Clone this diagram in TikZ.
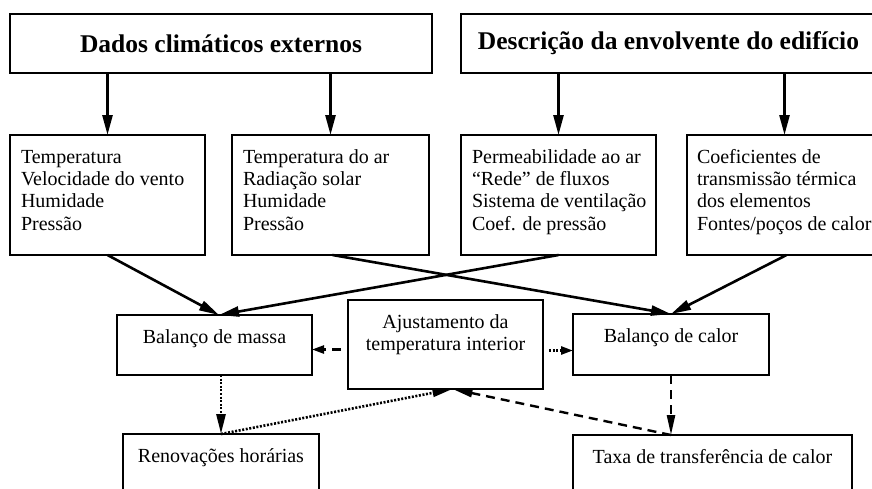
\documentclass[tikz,border=0pt]{standalone}
\usepackage{fontspec}
\setmainfont{Liberation Serif}
\usetikzlibrary{arrows.meta}
\newcommand{\boxL}[4]{\begin{minipage}[c][#2][t]{#1}\raggedright\leftskip=#3\relax\rule{0pt}{28pt}#4\end{minipage}}
\newcommand{\boxC}[3]{\begin{minipage}[c][#2][t]{#1}\centering\rule{0pt}{28pt}#3\end{minipage}}
\newcommand{\tline}[1]{\leavevmode\rlap{#1}}
\begin{document}
\begin{tikzpicture}[x=1pt,y=-1pt,
  font=\fontsize{20}{22.4}\selectfont,
  bx/.style={draw, line width=1.3pt, inner sep=0pt, outer sep=0pt},
  titlebox/.style={draw, line width=1.3pt, inner sep=0pt, outer sep=0pt, font=\fontsize{25.5}{30}\selectfont\bfseries},
  arr/.style={line width=2.6pt, -{Triangle[length=20pt,width=10pt]}},
  dsh/.style={line width=2.4pt, dash pattern=on 9pt off 6pt},
  dotl/.style={line width=2.6pt, dash pattern=on 2pt off 1.6pt}]
\useasboundingbox (0,0) rectangle (872,488);
\clip (0,0) rectangle (872,488);
% titles
\node[titlebox, minimum width=422pt, minimum height=59pt] (T1) at (221,43.5) {Dados climáticos externos};
\node[titlebox, minimum width=415pt, minimum height=59pt] (T2) at (668.5,43.5) {Descrição da envolvente do edifício};
% second row
\node[bx] (A) at (107.5,195) {\boxL{195pt}{120pt}{11pt}{\tline{Temperatura}\\\tline{Velocidade do vento}\\\tline{Humidade}\\\tline{Pressão}}};
\node[bx] (B) at (330.5,195) {\boxL{197pt}{120pt}{11pt}{\tline{Temperatura do ar}\\\tline{Radiação solar}\\\tline{Humidade}\\\tline{Pressão}}};
\node[bx] (C) at (558.5,195) {\boxL{195pt}{120pt}{11pt}{\tline{Permeabilidade ao ar}\\\tline{“Rede” de fluxos}\\\tline{Sistema de ventilação}\\\tline{Coef. de pressão}}};
\node[bx] (D) at (784.5,195) {\boxL{195pt}{120pt}{10pt}{\tline{Coeficientes de}\\\tline{transmissão térmica}\\\tline{dos elementos}\\\tline{Fontes/poços de calor}}};
% third row
\node[bx] (M) at (214.5,345) {\boxC{195pt}{60pt}{Balanço de massa}};
\node[bx] (Aj) at (445.5,344.5) {\boxC{195pt}{89pt}{Ajustamento da\\temperatura interior}};
\node[bx] (Cal) at (671,344.5) {\boxC{196pt}{61pt}{Balanço de calor}};
% fourth row
\node[bx] (Ren) at (221,464) {\boxC{196pt}{60pt}{Renovações horárias}};
\node[bx] (Tx) at (712.5,465) {\boxC{279pt}{60pt}{Taxa de transferência de calor}};
% solid arrows
\draw[arr] (A.north |- T1.south) -- (A.north);
\draw[arr] (B.north |- T1.south) -- (B.north);
\draw[arr] (C.north |- T2.south) -- (C.north);
\draw[arr] (D.north |- T2.south) -- (D.north);
\coordinate (mt) at ([xshift=4.5pt]M.north);
\draw[arr] (A.south) -- (mt);
\draw[arr] (C.south) -- (mt);
\draw[arr] ([xshift=2pt]B.south) -- (Cal.north);
\draw[arr] ([xshift=2pt]D.south) -- (Cal.north);
% dashed / dotted arrows
\coordinate (aw) at ([yshift=-5pt]Aj.west);
\coordinate (ae) at ([yshift=-6pt]Aj.east);
\draw[dsh, shorten <=7pt, -{Triangle[length=12pt,width=8pt]}] (aw) -- (aw -| M.east);
\draw[dotl, shorten <=6pt, -{Triangle[length=12pt,width=8pt]}] (ae) -- (ae -| Cal.west);
\draw[dotl, -{Triangle[length=20pt,width=9pt]}] (Ren.north |- M.south) -- (Ren.north);
\coordinate (ab) at ([xshift=7pt]Aj.south);
\draw[dotl, -{Triangle[length=20pt,width=8pt]}] (Ren.north) -- (ab);
\coordinate (tt) at (Cal.south |- Tx.north);
\draw[dsh, -{Triangle[length=20pt,width=8pt]}] (Cal.south) -- (tt);
\draw[dsh, -{Triangle[length=20pt,width=8pt]}] (tt) -- (ab);
\end{tikzpicture}
\end{document}
